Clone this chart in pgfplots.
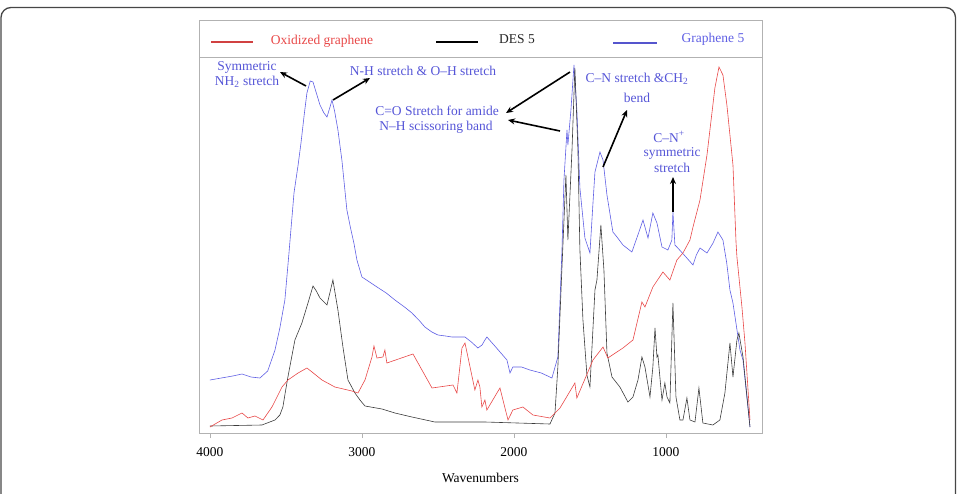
\documentclass[border=0pt]{standalone}
\usepackage{pgfplots}
\pgfplotsset{compat=1.18}
\usepackage{fontspec}
\setmainfont{Liberation Serif}
\usetikzlibrary{arrows.meta}

\definecolor{ogred}{RGB}{232,72,72}
\definecolor{desblk}{RGB}{60,60,60}
\definecolor{gblue}{RGB}{95,95,228}
\definecolor{annot}{RGB}{85,85,215}
\definecolor{boxgray}{RGB}{178,178,178}
\definecolor{frame}{RGB}{70,70,70}

\newcommand{\lbl}{\fontsize{13.5}{15.5}\selectfont}

\begin{document}
\begin{tikzpicture}[x=1pt,y=-1pt]
\useasboundingbox (0,0) rectangle (965,494);
% outer panel frame
\draw[line width=1.3pt, frame, rounded corners=10pt]
  (1,530) -- (1,7.5) -- (955.5,7.5) -- (955.5,530);

\begin{axis}[
  at={(199pt,-433pt)}, anchor=south west,
  scale only axis, width=563pt, height=413pt,
  x dir=reverse, xmin=368, xmax=4072, ymin=0, ymax=413,
  axis line style={boxgray, line width=0.8pt},
  ytick=\empty,
  xtick={1000,2000,3000,4000},
  xtick pos=lower, tick align=outside,
  major tick length=5pt,
  xtick style={boxgray, line width=0.8pt},
  /pgf/number format/assume math mode=true,
  /pgf/number format/set thousands separator={},
  xticklabel style={font=\lbl, text=black, yshift=-6pt},
  xlabel={Wavenumbers},
  xlabel style={font=\lbl, text=black, yshift=-10pt},
  clip=false,
]
% Graphene 5
\addplot[gblue, line width=0.6pt] coordinates {
(4000,53) (3850,57) (3789,59) (3730,56) (3671,55) (3620,62) (3572,83)
(3540,105) (3507,133) (3480,180) (3447,240)
(3420,268) (3401,290) (3380,318) (3362,340) (3340,352) (3322,351)
(3300,340) (3276,328) (3250,320) (3230,316) (3210,326) (3197,333)
(3180,322) (3158,303) (3132,273) (3099,223) (3075,205) (3053,190)
(3033,173) (3000,156) (2960,152)
(2901,146) (2840,140) (2783,133) (2720,126) (2671,120) (2620,112)
(2586,106) (2540,101) (2500,98) (2450,97) (2408,96)
(2360,96) (2322,96) (2280,91) (2237,85) (2210,88) (2191,93) (2178,96)
(2120,86) (2046,73) (2026,60) (2007,66)
(1950,66) (1895,63) (1820,60) (1750,55) (1711,76) (1684,183) (1671,253) (1651,303)
(1645,288) (1625,323) (1605,368) (1586,323) (1566,245) (1533,195)
(1500,180) (1480,230) (1467,261) (1434,281) (1414,273) (1388,238) (1349,201)
(1322,196) (1283,188) (1224,181) (1180,200) (1151,213) (1118,195) (1086,220)
(1059,210) (1026,186) (987,183) (961,193) (954,221) (941,188)
(928,186) (880,178) (822,168) (800,178) (776,185) (730,180) (690,190) (658,201) (625,193)
(600,170) (579,143) (559,130) (513,83) (493,73) (447,6)
};
% DES 5
\addplot[desblk, line width=0.6pt] coordinates {
(4000,7) (3658,8) (3572,13) (3540,18) (3520,26) (3505,40) (3487,56) (3441,93) (3395,110)
(3355,130) (3322,147) (3300,142) (3276,135) (3230,128) (3191,153) (3158,123)
(3125,86) (3092,53) (3046,40) (3013,33) (2980,27) (2868,24) (2783,20)
(2671,16) (2520,11) (2191,11) (1763,9) (1730,20) (1711,66) (1684,166)
(1658,258) (1645,193) (1618,283) (1599,365) (1579,283) (1566,183)
(1546,113) (1520,58) (1500,46) (1467,143) (1454,153) (1428,208)
(1408,163) (1388,80) (1355,56) (1303,46) (1250,31) (1217,36)
(1184,53) (1158,76) (1138,66) (1105,36) (1086,66) (1072,105)
(1059,76) (1053,78) (1026,33) (1007,50) (993,36) (974,30) (954,130)
(934,36) (908,13) (888,13) (862,35) (842,13) (809,11) (783,45)
(757,10) (691,8) (645,13) (612,40) (579,90) (559,56) (533,93)
(520,100) (493,76) (447,6)
};
% Oxidized graphene
\addplot[ogred, line width=0.6pt] coordinates {
(4000,6) (3921,13) (3855,15) (3789,20) (3750,15) (3704,17) (3651,13)
(3592,26) (3526,46) (3487,53) (3420,60) (3362,65) (3320,60) (3263,53) (3178,46) (3066,42)
(3026,40) (2980,53) (2934,76) (2921,87) (2901,75) (2862,76) (2849,83)
(2836,70) (2664,79) (2539,45) (2401,48) (2375,40) (2342,85) (2322,90)
(2257,43) (2237,53) (2224,46) (2211,26) (2191,33) (2178,23) (2112,40)
(2092,45) (2039,13) (2007,23) (1941,26) (1875,18) (1763,15) (1697,25)
(1599,50) (1586,35) (1480,73) (1414,86) (1382,75) (1283,85) (1217,93)
(1158,131) (1138,126) (1086,146) (1020,161) (974,153) (928,173)
(888,180) (842,193) (822,206) (776,233) (730,278) (678,345) (651,366)
(625,358) (599,328) (559,268) (539,191) (533,176) (500,126) (480,90)
(447,13)
};
\end{axis}

% legend strip
\draw[boxgray, line width=0.8pt] (199,57) -- (762,57);
\draw[ogred!90!black, line width=1.8pt] (211,42) -- (253,42);
\node[text=ogred, font=\lbl] at (322,41) {Oxidized graphene};
\draw[black, line width=1.8pt] (436,42) -- (478,42);
\node[text=black!85, font=\lbl] at (517,39) {DES 5};
\draw[gblue!90!black, line width=1.8pt] (613,43) -- (657,43);
\node[text=gblue, font=\lbl] at (713,39) {Graphene 5};

% band assignments
\begin{scope}[font=\lbl, text=annot, align=center]
\node at (247,67) {Symmetric};
\node at (247,82) {NH\textsubscript{2} stretch};
\node at (423,71) {N-H stretch \& O–H stretch};
\node at (437,111) {C=O Stretch for amide};
\node at (436,127) {N–H scissoring band};
\node at (637,79) {C–N stretch \&CH\textsubscript{2}};
\node at (637,98) {bend};
\node at (669,137) {C–N\textsuperscript{+}};
\node at (672,153) {symmetric};
\node at (672,168) {stretch};
\end{scope}
\begin{scope}[black, line width=1.6pt, -{Stealth[length=7pt,width=6pt]}]
\draw (306,86) -- (280,72);
\draw (333,100) -- (370,78);
\draw (570,72) -- (506,113);
\draw (560,131) -- (508,120);
\draw (603,167) -- (627,110);
\draw (673,212) -- (673,177);
\end{scope}
\end{tikzpicture}
\end{document}
